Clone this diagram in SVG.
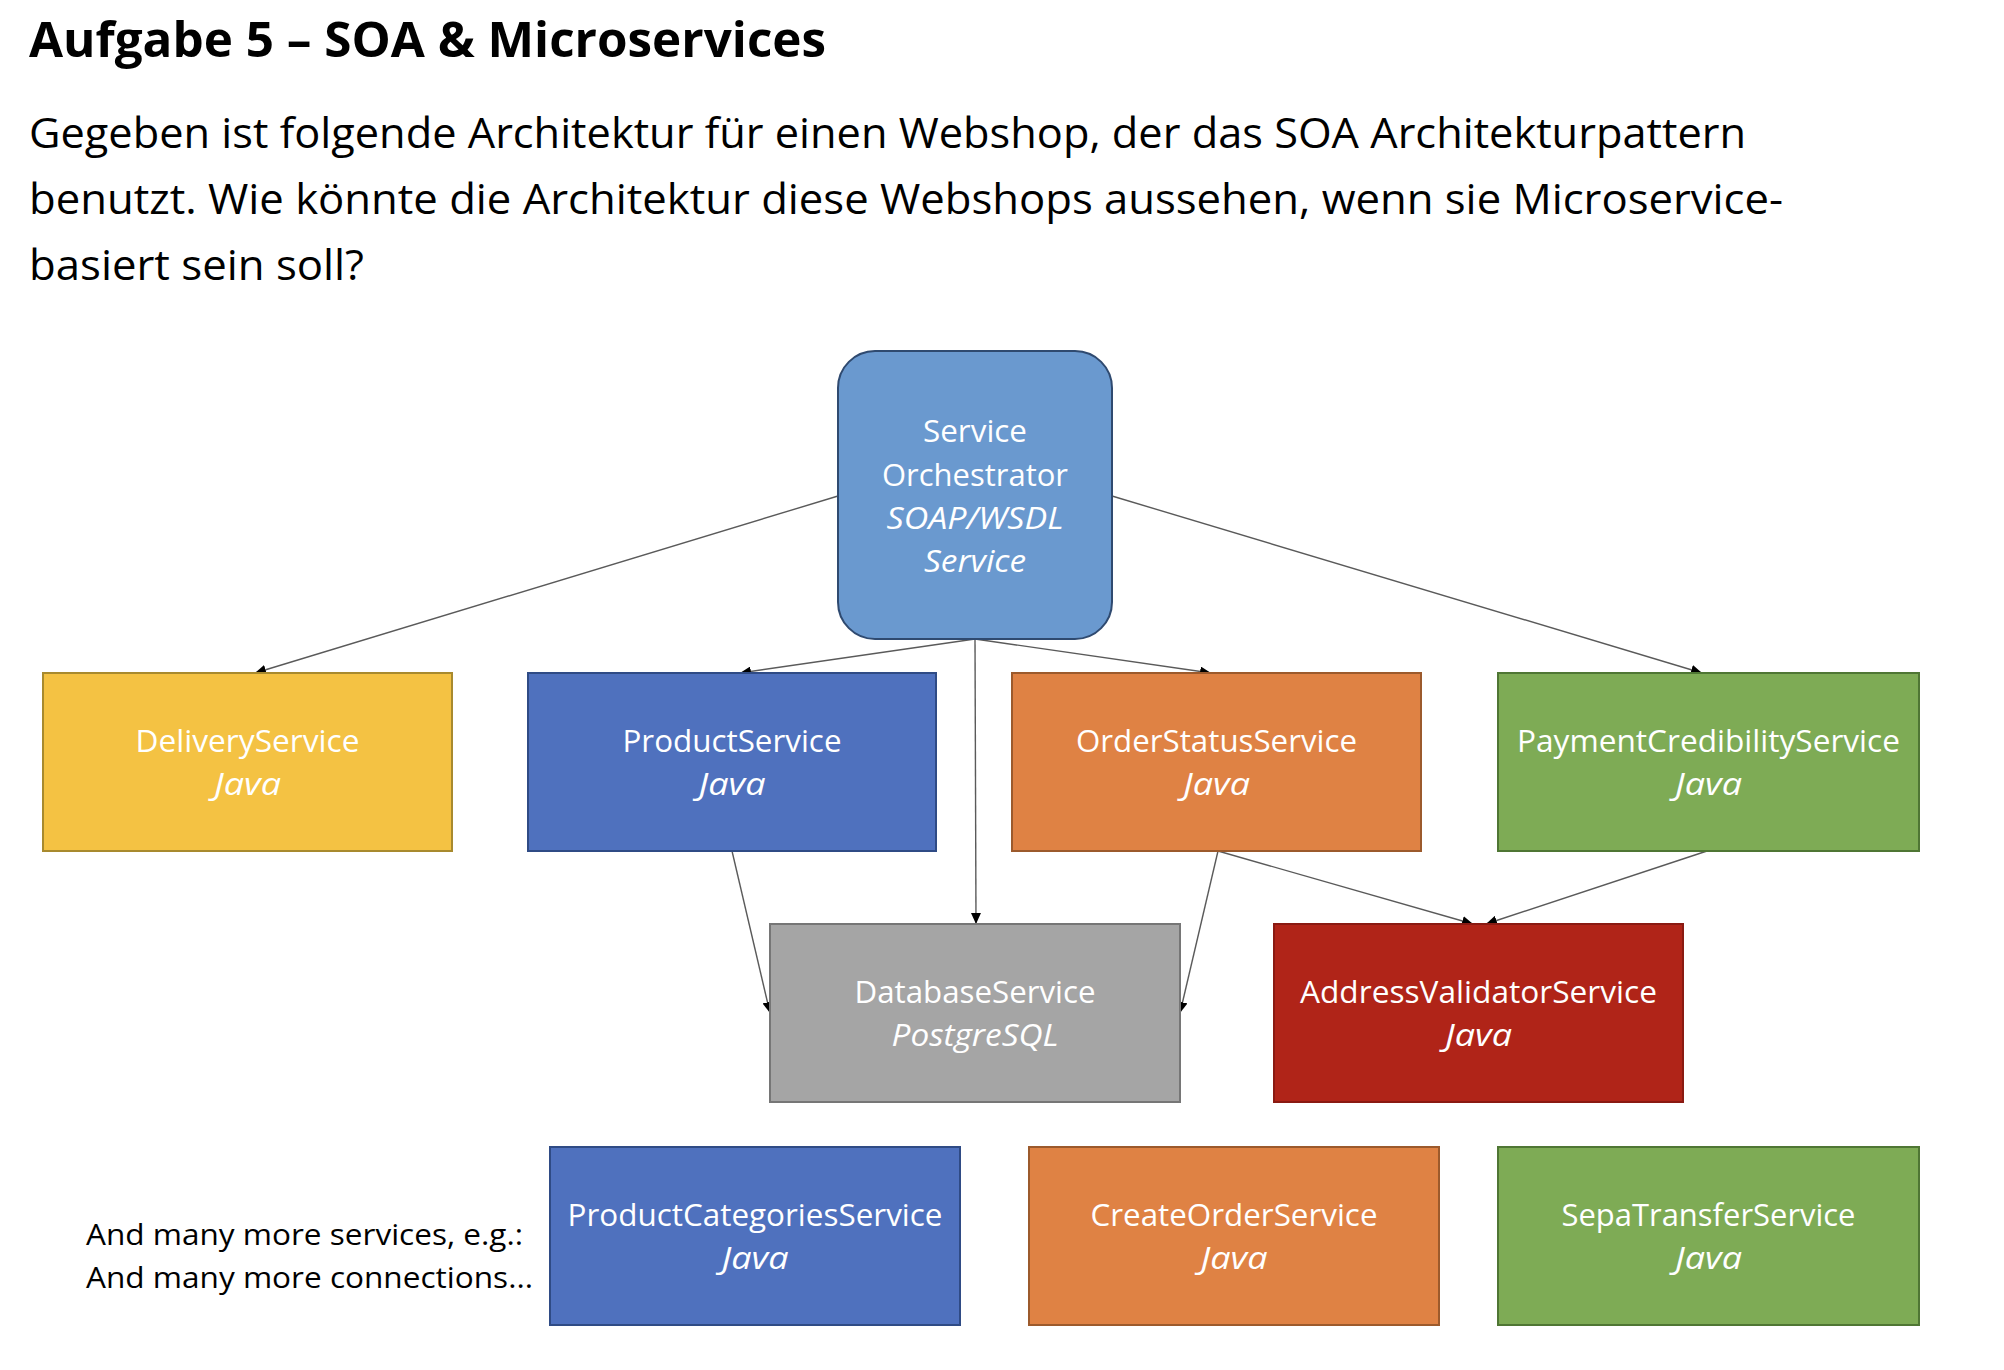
<svg xmlns="http://www.w3.org/2000/svg" width="2004" height="1370" viewBox="0 0 2004 1370">
<defs>
<style>
.t{font-family:"Open Sans","Noto Sans","Liberation Sans",sans-serif;}
.h{font-size:49px;font-weight:bold;fill:#000;}
.p{font-size:42px;fill:#000;}
.lab{font-size:31px;fill:#fff;text-anchor:middle;}
.it{font-style:italic;}
.note{font-size:30px;fill:#000;}
.con{stroke:#5a5a5a;stroke-width:1.4;fill:none;marker-end:url(#ah);}
.blue{fill:#4F71BE;stroke:#2F4B85;stroke-width:2;}
.orange{fill:#DF8244;stroke:#9C5A2C;stroke-width:2;}
.green{fill:#7EAB55;stroke:#4F7634;stroke-width:2;}
.gold{fill:#F4C243;stroke:#A88A2E;stroke-width:2;}
.gray{fill:#A5A5A5;stroke:#767676;stroke-width:2;}
.red{fill:#B02418;stroke:#8A1A12;stroke-width:2;}
.orch{fill:#6A99CF;stroke:#2F4A70;stroke-width:2;}
</style>
<marker id="ah" markerUnits="userSpaceOnUse" markerWidth="12" markerHeight="10" refX="11" refY="5" orient="auto">
<path d="M0,0 L11,5 L0,10 z" fill="#000"/>
</marker>
</defs>
<rect width="2004" height="1370" fill="#fff"/>
<text class="t h" x="29" y="57" textLength="797" lengthAdjust="spacingAndGlyphs">Aufgabe 5 – SOA &amp; Microservices</text>
<text class="t p" x="29" y="148" textLength="1717" lengthAdjust="spacingAndGlyphs">Gegeben ist folgende Architektur für einen Webshop, der das SOA Architekturpattern</text>
<text class="t p" x="29" y="214" textLength="1754" lengthAdjust="spacingAndGlyphs">benutzt. Wie könnte die Architektur diese Webshops aussehen, wenn sie Microservice-</text>
<text class="t p" x="29" y="280" textLength="335" lengthAdjust="spacingAndGlyphs">basiert sein soll?</text>

<g id="connectors">
<line class="con" x1="838" y1="496" x2="255" y2="673"/>
<line class="con" x1="975" y1="639" x2="740" y2="673"/>
<line class="con" x1="975" y1="639" x2="976" y2="924"/>
<line class="con" x1="975" y1="639" x2="1211" y2="673"/>
<line class="con" x1="1112" y1="496" x2="1702" y2="673"/>
<line class="con" x1="732" y1="851" x2="770" y2="1013"/>
<line class="con" x1="1218" y1="851" x2="1180" y2="1013"/>
<line class="con" x1="1218" y1="851" x2="1473" y2="924"/>
<line class="con" x1="1707" y1="851" x2="1486" y2="924"/>
</g>

<g id="orchestrator">
<rect class="orch" x="838" y="351" width="274" height="288" rx="37" ry="37"/>
<text class="t lab" x="975" y="442" textLength="104" lengthAdjust="spacingAndGlyphs">Service</text>
<text class="t lab" x="975" y="486" textLength="186" lengthAdjust="spacingAndGlyphs">Orchestrator</text>
<text class="t lab it" x="975" y="529" textLength="177" lengthAdjust="spacingAndGlyphs">SOAP/WSDL</text>
<text class="t lab it" x="975" y="572" textLength="102" lengthAdjust="spacingAndGlyphs">Service</text>
</g>

<g id="delivery">
<rect class="gold" x="43" y="673" width="409" height="178"/>
<text class="t lab" x="247.5" y="752" textLength="224" lengthAdjust="spacingAndGlyphs">DeliveryService</text>
<text class="t lab it" x="247.5" y="795" textLength="67" lengthAdjust="spacingAndGlyphs">Java</text>
</g>

<g id="product">
<rect class="blue" x="528" y="673" width="408" height="178"/>
<text class="t lab" x="732" y="752" textLength="219" lengthAdjust="spacingAndGlyphs">ProductService</text>
<text class="t lab it" x="732" y="795" textLength="67" lengthAdjust="spacingAndGlyphs">Java</text>
</g>

<g id="orderstatus">
<rect class="orange" x="1012" y="673" width="409" height="178"/>
<text class="t lab" x="1216.5" y="752" textLength="281" lengthAdjust="spacingAndGlyphs">OrderStatusService</text>
<text class="t lab it" x="1216.5" y="795" textLength="67" lengthAdjust="spacingAndGlyphs">Java</text>
</g>

<g id="payment">
<rect class="green" x="1498" y="673" width="421" height="178"/>
<text class="t lab" x="1708.5" y="752" textLength="383" lengthAdjust="spacingAndGlyphs">PaymentCredibilityService</text>
<text class="t lab it" x="1708.5" y="795" textLength="67" lengthAdjust="spacingAndGlyphs">Java</text>
</g>

<g id="database">
<rect class="gray" x="770" y="924" width="410" height="178"/>
<text class="t lab" x="975" y="1003" textLength="241" lengthAdjust="spacingAndGlyphs">DatabaseService</text>
<text class="t lab it" x="975" y="1046" textLength="167" lengthAdjust="spacingAndGlyphs">PostgreSQL</text>
</g>

<g id="addressvalidator">
<rect class="red" x="1274" y="924" width="409" height="178"/>
<text class="t lab" x="1478.5" y="1003" textLength="357" lengthAdjust="spacingAndGlyphs">AddressValidatorService</text>
<text class="t lab it" x="1478.5" y="1046" textLength="67" lengthAdjust="spacingAndGlyphs">Java</text>
</g>

<g id="note">
<text class="t note" x="86" y="1245" textLength="437" lengthAdjust="spacingAndGlyphs">And many more services, e.g.:</text>
<text class="t note" x="86" y="1288" textLength="447" lengthAdjust="spacingAndGlyphs">And many more connections...</text>
</g>

<g id="productcategories">
<rect class="blue" x="550" y="1147" width="410" height="178"/>
<text class="t lab" x="755" y="1226" textLength="375" lengthAdjust="spacingAndGlyphs">ProductCategoriesService</text>
<text class="t lab it" x="755" y="1269" textLength="67" lengthAdjust="spacingAndGlyphs">Java</text>
</g>

<g id="createorder">
<rect class="orange" x="1029" y="1147" width="410" height="178"/>
<text class="t lab" x="1234" y="1226" textLength="287" lengthAdjust="spacingAndGlyphs">CreateOrderService</text>
<text class="t lab it" x="1234" y="1269" textLength="67" lengthAdjust="spacingAndGlyphs">Java</text>
</g>

<g id="sepatransfer">
<rect class="green" x="1498" y="1147" width="421" height="178"/>
<text class="t lab" x="1708.5" y="1226" textLength="294" lengthAdjust="spacingAndGlyphs">SepaTransferService</text>
<text class="t lab it" x="1708.5" y="1269" textLength="67" lengthAdjust="spacingAndGlyphs">Java</text>
</g>
</svg>
